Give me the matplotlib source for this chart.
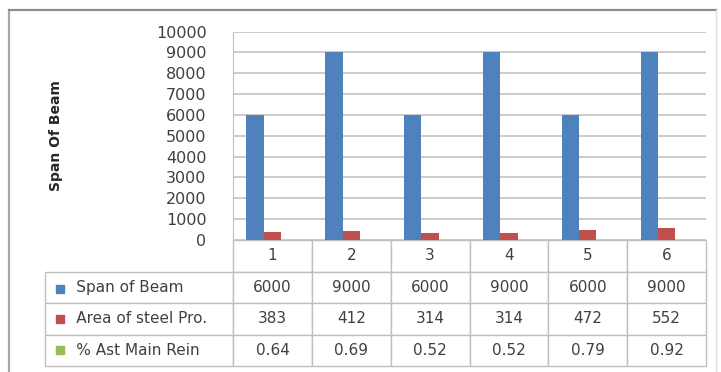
import numpy as np
import matplotlib.pyplot as plt
from matplotlib.patches import Rectangle

# data
categories = ['1', '2', '3', '4', '5', '6']
series_names = ['Span of Beam', 'Area of steel Pro.', '% Ast Main Rein']
span_of_beam = [6000, 9000, 6000, 9000, 6000, 9000]
area_of_steel = [383, 412, 314, 314, 472, 552]
ast_main_rein = [0.64, 0.69, 0.52, 0.52, 0.79, 0.92]
table_text = [['6000', '9000', '6000', '9000', '6000', '9000'],
              ['383', '412', '314', '314', '472', '552'],
              ['0.64', '0.69', '0.52', '0.52', '0.79', '0.92']]

colors = ['#4F81BD', '#C0504D', '#9BBB59']
txt = '#404040'
gridc = '#BFBFBF'

fig = plt.figure(figsize=(7.21, 3.72), dpi=100)
W, H = 721, 372

# outer chart border
fig.add_artist(plt.Line2D([9/W, 9/W], [0, 1 - 10/H], color='#A6A6A6', lw=1.6))
fig.add_artist(plt.Line2D([9/W, 716/W], [1 - 10/H, 1 - 10/H], color='#8C8C8C', lw=1.6))
fig.add_artist(plt.Line2D([716/W, 716/W], [0, 1 - 10/H], color='#E0E0E0', lw=1))

ax = fig.add_axes([233/W, 1 - 240/H, 473/W, 208.5/H])

x = np.arange(len(categories))
w = 0.22
for i, vals in enumerate([span_of_beam, area_of_steel, ast_main_rein]):
    ax.bar(x + (i - 1) * w, vals, w, color=colors[i], zorder=3)

ax.set_xlim(-0.5, 5.5)
ax.set_ylim(0, 10000)
ax.set_yticks(np.arange(0, 10001, 1000))
ax.yaxis.grid(True, color=gridc, lw=1.1, zorder=0)
ax.set_xticks([])
ax.tick_params(axis='y', length=0, labelsize=11.5, labelcolor=txt, pad=19)
for s in ['top', 'right', 'bottom']:
    ax.spines[s].set_visible(False)
ax.spines['left'].set_color(gridc)
ax.set_ylabel('Span Of Beam', fontsize=10, fontweight='bold', color='#262626', labelpad=67)

# data table under the plot: first column holds the series names
cells = [['      ' + n] + row for n, row in zip(series_names, table_text)]
col_w = [188/661] + [78.8/661] * len(categories)
tab = ax.table(cellText=cells, colLabels=[''] + categories, colWidths=col_w,
               cellLoc='center', colLoc='center',
               bbox=[(45 - 233)/473, (240 - 366)/208.5, 661/473, 126/208.5])
tab.auto_set_font_size(False)
for (r, c), cell in tab.get_celld().items():
    cell.set_edgecolor(gridc)
    cell.set_linewidth(1.0)
    cell.get_text().set_fontsize(11)
    cell.get_text().set_color(txt)
    if c == 0:
        cell.get_text().set_horizontalalignment('left')
        cell.PAD = 0.01
    if r == 0 and c == 0:
        cell.visible_edges = ''

# legend keys in the table
row_centers = [(273 + 304) / 2, (304 + 334) / 2, (334 + 366) / 2]
for yc, c in zip(row_centers, colors):
    ax.add_patch(Rectangle(((56 - 233)/473, (240 - yc - 4)/208.5), 8/473, 8/208.5,
                           transform=ax.transAxes, color=c, clip_on=False))

fig.savefig('out.png', dpi=100)
